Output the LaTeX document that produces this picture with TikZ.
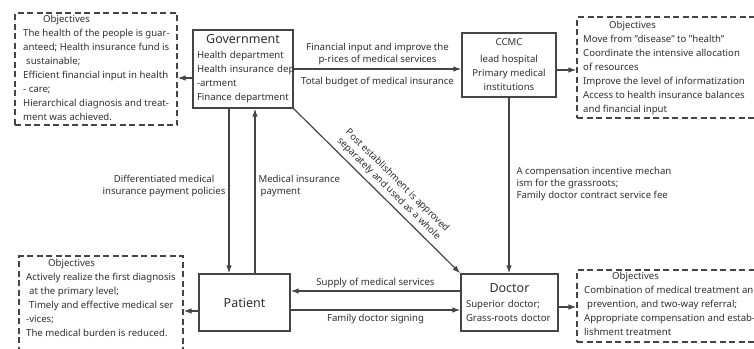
\documentclass[tikz,border=0pt]{standalone}
\usepackage{fontspec}
\setmainfont{Noto Sans}
\usetikzlibrary{arrows.meta, positioning, calc}
\definecolor{ink}{HTML}{454545}
\definecolor{txt}{HTML}{2E2E2E}

\begin{document}
\begin{tikzpicture}[x=1pt, y=-1pt,
    every node/.style={font=\fontsize{9.6}{14}\selectfont, text=txt},
    box/.style={draw=ink, line width=1.3pt, inner ysep=0pt},
    goal/.style={draw=ink, line width=1.2pt, dash pattern=on 6pt off 3.5pt, inner sep=0pt},
    goaltext/.style={anchor=north west, align=left, inner sep=0pt},
    flow/.style={-{Latex[length=8pt, width=5.5pt]}, draw=ink, line width=1.2pt},
    lbl/.style={font=\fontsize{9.6}{12}\selectfont, inner sep=2pt},
    bigfont/.style={font=\fontsize{12.5}{15}\selectfont}
]
\useasboundingbox (0,0) rectangle (754,348);
\clip (0,0) rectangle (754,348);

% Actors
\node[box, minimum width=100, minimum height=78, text width=92, inner xsep=4pt, align=left] (gov) at (243,69)
    {\makebox[\hsize][c]{\fontsize{12.5}{15}\selectfont Government}\\[1pt]
     Health department\\ \mbox{Health insurance dep}\\ -artment\\ Finance department};
\node[box, minimum width=94, minimum height=64, align=center] (ccmc) at (509,65)
    {CCMC\\[3pt] lead hospital\\ Primary medical\\ institutions};
\node[box, bigfont, minimum width=91, minimum height=57] (pat) at (244.5,302.5) {Patient};
\node[box, minimum width=97, minimum height=57, text width=87, inner xsep=5pt, align=left] (doc) at (509.5,302.5)
    {\makebox[\hsize][c]{\fontsize{12.5}{15}\selectfont Doctor}\\[1pt]
     Superior doctor;\\ Grass-roots doctor};

% Objectives of each actor
\node[goal, minimum width=162, minimum height=112] (objgov) at (96,69) {};
\node[goaltext] (objgovtext) at (23,15) {\hspace*{20pt}Objectives\\
    The health of the people is guar-\\ anteed; Health insurance fund is\\
    \hspace*{3pt}sustainable;\\ Efficient financial input in health\\
    - care;\\ Hierarchical diagnosis and treat-\\ ment was achieved.};

\node[goal, minimum width=200, minimum height=101] (objccmc) at (677,67.5) {};
\node[goaltext] (objccmctext) at (583,21) {\hspace*{26pt}Objectives\\
    Move from "disease" to "health"\\ Coordinate the intensive allocation\\
    of resources\\ Improve the level of informatization\\
    Access to health insurance balances\\ and financial input};

\node[goal, minimum width=164, minimum height=104] (objpat) at (101,308) {};
\node[goaltext] (objpattext) at (26,259) {\hspace*{22pt}Objectives\\
    Actively realize the first diagnosis\\ \hspace*{3pt}at the primary level;\\
    \hspace*{3pt}Timely and effective medical ser\\ -vices;\\
    The medical burden is reduced.};

\node[goal, minimum width=200, minimum height=72] (objdoc) at (677,306) {};
\node[goaltext] (objdoctext) at (584,272) {\hspace*{28pt}Objectives\\
    Combination of medical treatment an\\ \hspace*{3pt}prevention, and two-way referral;\\
    Appropriate compensation and estab-\\ lishment treatment};

% Helper points for offset connectors
\coordinate (g1) at ($(gov.west)+(0,9)$);
\coordinate (g2) at ($(gov.south)+(-14,0)$);
\coordinate (g3) at ($(gov.south)+(12,0)$);
\coordinate (c1) at ($(ccmc.east)+(0,5)$);
\coordinate (d1) at ($(doc.west)+(0,-11.5)$);
\coordinate (d2) at ($(doc.west)+(0,7.5)$);
\coordinate (d3) at ($(doc.east)+(0,4.5)$);
\coordinate (p1) at ($(pat.west)+(0,8.5)$);

% Flows
\draw[flow] (g1) -- (g1 -| objgov.east);
\draw[flow] (gov.east) -- (gov.east -| ccmc.west)
    node[lbl, midway, above=2pt, align=center] {Financial input and improve the\\p-rices of medical services}
    node[lbl, midway, below=6pt] {Total budget of medical insurance};
\draw[flow] (c1) -- (c1 -| objccmc.west);
\draw[flow] (g2) -- (g2 |- pat.north)
    node[lbl, pos=0.47, left=1pt, align=center] {Differentiated medical\\insurance payment policies};
\draw[flow] (g3 |- pat.north) -- (g3)
    node[lbl, pos=0.53, right=1pt, align=left] {Medical insurance\\\hspace*{2pt}payment};
\draw[flow] (gov.south east) -- (doc.north west)
    node[lbl, sloped, pos=0.53, above=2pt, align=center] {Post establishment is approved\\separately and used as a whole};
\draw[flow] (ccmc.south) -- (ccmc.south |- doc.north)
    node[lbl, pos=0.49, right=5pt, align=left] {A compensation incentive mechan\\ism for the grassroots;\\Family doctor contract service fee};
\draw[flow] (d1) -- (d1 -| pat.east)
    node[lbl, midway, above=1pt] {Supply of medical services};
\draw[flow] (d2 -| pat.east) -- (d2)
    node[lbl, midway, below=2pt] {Family doctor signing};
\draw[flow] (p1) -- (p1 -| objpat.east);
\draw[flow] (d3) -- (d3 -| objdoc.west);
\end{tikzpicture}
\end{document}
